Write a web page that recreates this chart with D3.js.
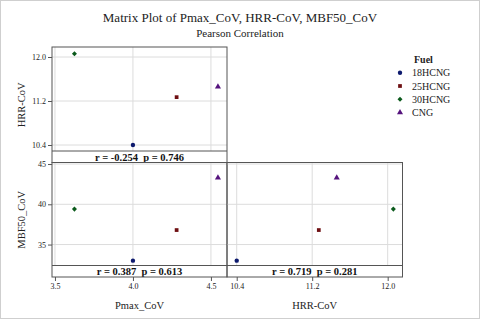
<!DOCTYPE html>
<html lang="en">
<head>
    <meta charset="UTF-8">
    <title>Matrix Plot of Pmax_CoV, HRR-CoV, MBF50_CoV</title>
    <script src="https://d3js.org/d3.v7.min.js"></script>
    <style>
        body { margin: 0; background: #fff; }
        text { font-family: "Liberation Serif", "Times New Roman", serif; }
    </style>
</head>
<body>
    <div id="chart"></div>
    <script>
        const width = 480, height = 320;

        // data
        const fuels = ["18HCNG", "25HCNG", "30HCNG", "CNG"];
        const pmaxCoV = [4.00, 4.28, 3.625, 4.545];
        const hrrCoV = [10.40, 11.27, 12.06, 11.46];
        const mbf50CoV = [33.0, 36.8, 39.4, 43.3];
        const fuelColors = ["#0d1a6e", "#6e0f12", "#0b5a1c", "#55137d"];
        const pmaxTicks = [3.5, 4.0, 4.5];
        const hrrTicks = [10.4, 11.2, 12.0];
        const mbfTicks = [35, 40, 45];
        const corrLabels = ["r = -0.254  p = 0.746", "r = 0.387  p = 0.613", "r = 0.719  p = 0.281"];

        const svg = d3.select("#chart").append("svg")
            .attr("width", width).attr("height", height);

        svg.append("rect").attr("x", 0.5).attr("y", 0.5)
            .attr("width", width - 1).attr("height", height - 2)
            .attr("fill", "#fff").attr("stroke", "#cfcfcf");

        svg.append("text").attr("x", 240).attr("y", 22).attr("text-anchor", "middle")
            .attr("font-size", "13px").attr("fill", "#222")
            .text("Matrix Plot of Pmax_CoV, HRR-CoV, MBF50_CoV");
        svg.append("text").attr("x", 240).attr("y", 36.5).attr("text-anchor", "middle")
            .attr("font-size", "11px").attr("fill", "#222")
            .text("Pearson Correlation");

        // panel layout
        const colX = [52, 227, 402.5];
        const rowY = [47, 162.5, 277];
        const stripH = 11.5;

        const xP = d3.scaleLinear().domain([3.481, 4.603]).range([colX[0], colX[1]]);
        const xH = d3.scaleLinear().domain([10.297, 12.157]).range([colX[1], colX[2]]);
        const yH = d3.scaleLinear().domain([10.082, 12.182]).range([rowY[1], rowY[0]]);
        const yM = d3.scaleLinear().domain([30.97, 45.19]).range([rowY[2], rowY[1]]);

        const symbols = [d3.symbolCircle, d3.symbolSquare, d3.symbolDiamond2 || d3.symbolDiamond, d3.symbolTriangle];
        const symSizes = [15, 14, 16, 16];

        const panels = [
            { x: xP, y: yH, xv: pmaxCoV, yv: hrrCoV, xt: pmaxTicks, yt: hrrTicks, c: 0, r: 0, label: corrLabels[0] },
            { x: xP, y: yM, xv: pmaxCoV, yv: mbf50CoV, xt: pmaxTicks, yt: mbfTicks, c: 0, r: 1, label: corrLabels[1] },
            { x: xH, y: yM, xv: hrrCoV, yv: mbf50CoV, xt: hrrTicks, yt: mbfTicks, c: 1, r: 1, label: corrLabels[2] }
        ];

        panels.forEach(p => {
            const x0 = colX[p.c], x1 = colX[p.c + 1];
            const y0 = rowY[p.r], y1 = rowY[p.r + 1];
            const yStrip = y1 - stripH;
            const g = svg.append("g");

            // gridlines, kept above the r/p strip
            p.xt.forEach(t => {
                g.append("line").attr("x1", p.x(t)).attr("x2", p.x(t))
                    .attr("y1", y0).attr("y2", yStrip)
                    .attr("stroke", "#dcdcdc").attr("stroke-width", 1);
            });
            p.yt.forEach(t => {
                const yy = p.y(t);
                if (yy > y0 + 1 && yy < yStrip) {
                    g.append("line").attr("x1", x0).attr("x2", x1)
                        .attr("y1", yy).attr("y2", yy)
                        .attr("stroke", "#dcdcdc").attr("stroke-width", 1);
                }
            });

            p.xv.forEach((v, i) => {
                g.append("path")
                    .attr("d", d3.symbol().type(symbols[i]).size(symSizes[i]))
                    .attr("transform", `translate(${p.x(v)},${p.y(p.yv[i])})`)
                    .attr("fill", fuelColors[i]);
            });

            g.append("line").attr("x1", x0).attr("x2", x1)
                .attr("y1", yStrip).attr("y2", yStrip)
                .attr("stroke", "#555").attr("stroke-width", 1);
            g.append("text").attr("x", (x0 + x1) / 2).attr("y", yStrip + stripH / 2 + 3.8)
                .attr("text-anchor", "middle").attr("font-size", "10.5px")
                .attr("font-weight", "bold").attr("fill", "#111")
                .style("white-space", "pre")
                .text(p.label);

            g.append("rect").attr("x", x0).attr("y", y0)
                .attr("width", x1 - x0).attr("height", y1 - y0)
                .attr("fill", "none").attr("stroke", "#555").attr("stroke-width", 1);
        });

        function styleAxis(sel) {
            sel.attr("font-family", null);
            sel.select(".domain").remove();
            sel.selectAll(".tick line").attr("stroke", "#555");
            sel.selectAll(".tick text").attr("font-size", "8px").attr("fill", "#222");
        }

        svg.append("g").attr("transform", `translate(${colX[0]},0)`)
            .call(d3.axisLeft(yH).tickValues(hrrTicks).tickFormat(d3.format(".1f")).tickSize(4).tickPadding(2))
            .call(styleAxis);
        svg.append("g").attr("transform", `translate(${colX[0]},0)`)
            .call(d3.axisLeft(yM).tickValues(mbfTicks).tickFormat(d3.format("d")).tickSize(4).tickPadding(2))
            .call(styleAxis);
        svg.append("g").attr("transform", `translate(0,${rowY[2]})`)
            .call(d3.axisBottom(xP).tickValues(pmaxTicks).tickFormat(d3.format(".1f")).tickSize(4).tickPadding(2))
            .call(styleAxis);
        svg.append("g").attr("transform", `translate(0,${rowY[2]})`)
            .call(d3.axisBottom(xH).tickValues(hrrTicks).tickFormat(d3.format(".1f")).tickSize(4).tickPadding(2))
            .call(styleAxis);

        // axis titles
        svg.append("text").attr("transform", `translate(24.5,${(rowY[0] + rowY[1]) / 2}) rotate(-90)`)
            .attr("text-anchor", "middle").attr("font-size", "10.5px").attr("fill", "#222").text("HRR-CoV");
        svg.append("text").attr("transform", `translate(24.5,${(rowY[1] + rowY[2]) / 2}) rotate(-90)`)
            .attr("text-anchor", "middle").attr("font-size", "10.5px").attr("fill", "#222").text("MBF50_CoV");
        svg.append("text").attr("x", (colX[0] + colX[1]) / 2).attr("y", 309)
            .attr("text-anchor", "middle").attr("font-size", "10.5px").attr("fill", "#222").text("Pmax_CoV");
        svg.append("text").attr("x", (colX[1] + colX[2]) / 2).attr("y", 309)
            .attr("text-anchor", "middle").attr("font-size", "10.5px").attr("fill", "#222").text("HRR-CoV");

        // legend
        const leg = svg.append("g");
        leg.append("text").attr("x", 414).attr("y", 62.8).attr("font-size", "10px")
            .attr("font-weight", "bold").attr("fill", "#222").text("Fuel");
        fuels.forEach((f, i) => {
            const yy = 72.7 + i * 13.3;
            leg.append("path")
                .attr("d", d3.symbol().type(symbols[i]).size(symSizes[i]))
                .attr("transform", `translate(400,${yy})`)
                .attr("fill", fuelColors[i]);
            leg.append("text").attr("x", 412).attr("y", yy + 3.5)
                .attr("font-size", "10px").attr("fill", "#222").text(f);
        });
    </script>
</body>
</html>
